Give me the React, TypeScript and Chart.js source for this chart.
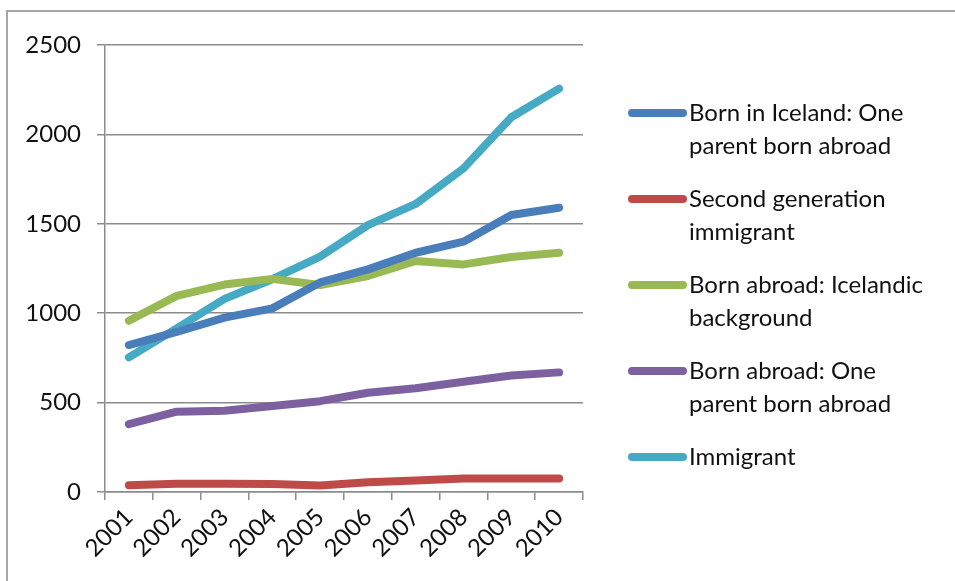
import { useEffect, useRef } from "react";
import { Chart, registerables } from "chart.js";

Chart.register(...registerables);

const years = ["2001", "2002", "2003", "2004", "2005", "2006", "2007", "2008", "2009", "2010"];
const seriesNames = [
  "Born in Iceland: One parent born abroad",
  "Second generation immigrant",
  "Born abroad: Icelandic background",
  "Born abroad: One parent born abroad",
  "Immigrant",
];
const bornIcelandOneParent = [822, 895, 975, 1027, 1172, 1245, 1338, 1400, 1549, 1590];
const secondGeneration = [38, 46, 46, 45, 36, 55, 64, 75, 75, 75];
const bornAbroadIcelandic = [958, 1097, 1160, 1192, 1158, 1208, 1292, 1273, 1314, 1338];
const bornAbroadOneParent = [380, 449, 455, 481, 508, 555, 580, 617, 652, 669];
const immigrant = [753, 915, 1080, 1190, 1316, 1493, 1611, 1810, 2096, 2256];
const yTicks = [0, 500, 1000, 1500, 2000, 2500];
const seriesColors = ["#4a7ebb", "#be4b48", "#98b954", "#7d60a0", "#46aac5"];

const FONT = "Lato, 'Open Sans', sans-serif";

function wrapText(ctx: CanvasRenderingContext2D, text: string, maxWidth: number): string[] {
  const words = text.split(" ");
  const lines: string[] = [];
  let cur = "";
  for (const w of words) {
    const test = cur ? cur + " " + w : w;
    if (ctx.measureText(test).width > maxWidth && cur) {
      lines.push(cur);
      cur = w;
    } else {
      cur = test;
    }
  }
  if (cur) lines.push(cur);
  return lines;
}

const framePlugin = {
  id: "frame",
  beforeDraw(chart: any) {
    const ctx = chart.ctx as CanvasRenderingContext2D;
    ctx.save();
    ctx.fillStyle = "#ffffff";
    ctx.fillRect(0, 0, chart.width, chart.height);
    ctx.strokeStyle = "#a6a6a6";
    ctx.lineWidth = 2;
    ctx.beginPath();
    ctx.moveTo(7, chart.height);
    ctx.lineTo(7, 11);
    ctx.lineTo(chart.width, 11);
    ctx.stroke();
    ctx.restore();
  },
};

const sideLegendPlugin = {
  id: "sideLegend",
  afterDraw(chart: any) {
    const ctx = chart.ctx as CanvasRenderingContext2D;
    ctx.save();
    ctx.font = `24px ${FONT}`;
    ctx.textBaseline = "middle";
    ctx.textAlign = "left";
    let y = 113;
    const lineH = 33;
    chart.data.datasets.forEach((ds: any) => {
      const lines = wrapText(ctx, ds.label, 252);
      ctx.strokeStyle = ds.borderColor;
      ctx.lineWidth = 8;
      ctx.lineCap = "round";
      ctx.beginPath();
      ctx.moveTo(632, y);
      ctx.lineTo(683, y);
      ctx.stroke();
      ctx.fillStyle = "#111111";
      lines.forEach((l, i) => ctx.fillText(l, 689, y + i * lineH));
      y += lines.length * lineH + 20;
    });
    ctx.restore();
  },
};

export default function App() {
  const canvasRef = useRef<HTMLCanvasElement | null>(null);

  useEffect(() => {
    if (!canvasRef.current) return;
    const data = [bornIcelandOneParent, secondGeneration, bornAbroadIcelandic, bornAbroadOneParent, immigrant];
    const chart = new Chart(canvasRef.current, {
      type: "line",
      data: {
        labels: years,
        datasets: data.map((d, i) => ({
          label: seriesNames[i],
          data: d,
          borderColor: seriesColors[i],
          backgroundColor: seriesColors[i],
          borderWidth: 8,
          borderCapStyle: "round" as const,
          borderJoinStyle: "round" as const,
          pointRadius: 0,
          pointHoverRadius: 0,
          tension: 0,
          fill: false,
        })),
      },
      options: {
        animation: false,
        responsive: true,
        maintainAspectRatio: false,
        layout: { padding: { left: 0, top: 45, right: 372, bottom: 0 } },
        plugins: {
          legend: { display: false },
          tooltip: { enabled: false },
        },
        scales: {
          x: {
            type: "category",
            offset: true,
            grid: {
              offset: true,
              drawOnChartArea: false,
              drawTicks: true,
              tickLength: 8,
              color: "#8c8c8c",
              lineWidth: 1.5,
            },
            border: { color: "#8c8c8c", width: 1.5 },
            ticks: {
              minRotation: 45,
              maxRotation: 45,
              padding: 3,
              color: "#111111",
              font: { family: FONT, size: 24 },
            },
            afterFit(scale: any) {
              scale.height = 89;
            },
          },
          y: {
            min: 0,
            max: 2500,
            afterBuildTicks(scale: any) {
              scale.ticks = yTicks.map((v) => ({ value: v }));
            },
            grid: {
              color: "#8c8c8c",
              lineWidth: 1.5,
              tickLength: 8,
            },
            border: { color: "#8c8c8c", width: 1.5 },
            ticks: {
              padding: 16,
              color: "#111111",
              font: { family: FONT, size: 24 },
              callback: (v: any) => String(v),
            },
            afterFit(scale: any) {
              scale.width = 105;
            },
          },
        },
      },
      plugins: [framePlugin, sideLegendPlugin],
    });
    return () => chart.destroy();
  }, []);

  return (
    <div style={{ position: "fixed", left: 0, top: 0, width: 955, height: 581 }}>
      <canvas ref={canvasRef} />
    </div>
  );
}
